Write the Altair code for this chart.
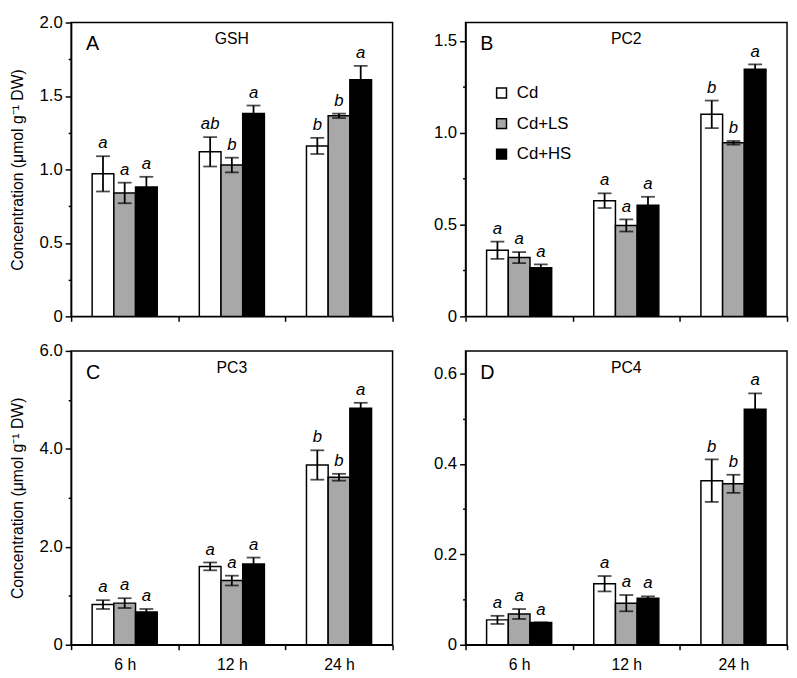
import altair as alt
import pandas as pd

FONT = "Liberation Sans"

times = ["6 h", "12 h", "24 h"]
treatments = ["Cd", "Cd+LS", "Cd+HS"]
fills = ["#ffffff", "#a8a8a8", "#000000"]

# GSH
gsh_cd = [0.97, 1.12, 1.16]
gsh_cd_err = [0.12, 0.10, 0.055]
gsh_ls = [0.84, 1.03, 1.365]
gsh_ls_err = [0.07, 0.05, 0.015]
gsh_hs = [0.88, 1.38, 1.61]
gsh_hs_err = [0.07, 0.055, 0.095]
gsh_letters = [["a", "ab", "b"], ["a", "b", "b"], ["a", "a", "a"]]

# PC2
pc2_cd = [0.36, 0.63, 1.10]
pc2_cd_err = [0.047, 0.04, 0.075]
pc2_ls = [0.32, 0.495, 0.945]
pc2_ls_err = [0.03, 0.033, 0.01]
pc2_hs = [0.265, 0.605, 1.345]
pc2_hs_err = [0.018, 0.046, 0.027]
pc2_letters = [["a", "a", "b"], ["a", "a", "b"], ["a", "a", "a"]]

# PC3
pc3_cd = [0.82, 1.60, 3.67]
pc3_cd_err = [0.09, 0.08, 0.30]
pc3_ls = [0.85, 1.31, 3.42]
pc3_ls_err = [0.10, 0.10, 0.07]
pc3_hs = [0.67, 1.65, 4.83]
pc3_hs_err = [0.06, 0.13, 0.11]
pc3_letters = [["a", "a", "b"], ["a", "a", "b"], ["a", "a", "a"]]

# PC4
pc4_cd = [0.055, 0.135, 0.363]
pc4_cd_err = [0.009, 0.017, 0.047]
pc4_ls = [0.068, 0.092, 0.356]
pc4_ls_err = [0.011, 0.018, 0.02]
pc4_hs = [0.049, 0.103, 0.521]
pc4_hs_err = [0.0, 0.004, 0.035]
pc4_letters = [["a", "a", "b"], ["a", "a", "b"], ["a", "a", "a"]]

W = 326
H = 298


def build(means, errs, letters):
    rows = []
    for ti, trt in enumerate(treatments):
        for gi, t in enumerate(times):
            m = means[ti][gi]
            e = errs[ti][gi]
            rows.append({"time": t, "treatment": trt, "mean": m,
                         "lo": m - e, "hi": m + e, "letter": letters[ti][gi]})
    return pd.DataFrame(rows)


def panel(df, ymax, majors, minors, tag, name, xlabels, ytitle, legend):
    allv = sorted(majors + minors)
    majs = "[" + ",".join(str(v) for v in majors) + "]"
    yaxis = alt.Axis(
        values=allv,
        labelExpr=f"indexof({majs}, datum.value) < 0 ? '' : (datum.value == 0 ? '0' : format(datum.value, '.1f'))",
        tickSize={"condition": {"test": f"indexof({majs}, datum.value) >= 0", "value": 6}, "value": 3},
        title=ytitle,
        grid=False,
        labelPadding=3,
        labelFontSize=17,
        titlePadding=14,
    )
    yscale = alt.Scale(domain=[0, ymax], nice=False, zero=True)
    xaxis = alt.Axis(title=None, tickBand="extent", labels=xlabels, tickSize=5,
                     labelPadding=7, labelAngle=0, grid=False, labelFontSize=16)
    base = alt.Chart(df).encode(
        x=alt.X("time:N", sort=times, scale=alt.Scale(paddingInner=0, paddingOuter=0), axis=xaxis),
        xOffset=alt.XOffset("treatment:N", sort=treatments,
                            scale=alt.Scale(paddingOuter=0.97, paddingInner=0)),
    )
    fill_kw = {}
    if legend:
        fill_kw["legend"] = alt.Legend(
            orient="none", legendX=28, legendY=63, title=None, symbolType="square",
            symbolSize=100, symbolStrokeColor="black", symbolStrokeWidth=1.5,
            labelFontSize=17, labelFont=FONT, labelColor="black", rowPadding=13,
            labelOffset=7, direction="vertical")
    else:
        fill_kw["legend"] = None
    bars = base.mark_bar(stroke="black", strokeWidth=1.5).encode(
        y=alt.Y("mean:Q", scale=yscale, axis=yaxis),
        fill=alt.Fill("treatment:N", sort=treatments,
                      scale=alt.Scale(domain=treatments, range=fills), **fill_kw),
    )
    rule = base.mark_rule(strokeWidth=1.8, color="black").encode(
        y=alt.Y("lo:Q", scale=yscale, axis=yaxis), y2="hi:Q")
    captop = base.mark_tick(orient="horizontal", size=14, thickness=1.8, color="black").encode(
        y=alt.Y("hi:Q", scale=yscale, axis=yaxis))
    capbot = base.mark_tick(orient="horizontal", size=14, thickness=1.8, color="black").encode(
        y=alt.Y("lo:Q", scale=yscale, axis=yaxis))
    letters = base.mark_text(fontStyle="italic", fontSize=17, dy=-8, baseline="alphabetic",
                             font=FONT, color="black").encode(
        y=alt.Y("hi:Q", scale=yscale, axis=yaxis), text="letter:N")
    tagt = alt.Chart(pd.DataFrame({"t": [tag]})).mark_text(
        fontSize=20, align="left", baseline="middle", font=FONT, color="black").encode(
        text="t:N", x=alt.value(15), y=alt.value(22))
    titl = alt.Chart(pd.DataFrame({"t": [name]})).mark_text(
        fontSize=16, align="center", baseline="middle", font=FONT, color="black").encode(
        text="t:N", x=alt.value(W / 2), y=alt.value(17))
    return alt.layer(bars, rule, captop, capbot, letters, tagt, titl).properties(width=W, height=H)


YT = "Concentration (μmol g⁻¹ DW)"

pA = panel(build([gsh_cd, gsh_ls, gsh_hs], [gsh_cd_err, gsh_ls_err, gsh_hs_err], gsh_letters),
           2.0, [0, 0.5, 1.0, 1.5, 2.0], [0.25, 0.75, 1.25, 1.75], "A", "GSH", False, YT, False)
pB = panel(build([pc2_cd, pc2_ls, pc2_hs], [pc2_cd_err, pc2_ls_err, pc2_hs_err], pc2_letters),
           1.6, [0, 0.5, 1.0, 1.5], [0.25, 0.75, 1.25], "B", "PC2", False, None, True)
pC = panel(build([pc3_cd, pc3_ls, pc3_hs], [pc3_cd_err, pc3_ls_err, pc3_hs_err], pc3_letters),
           6.0, [0, 2.0, 4.0, 6.0], [1.0, 3.0, 5.0], "C", "PC3", True, YT, False)
pD = panel(build([pc4_cd, pc4_ls, pc4_hs], [pc4_cd_err, pc4_ls_err, pc4_hs_err], pc4_letters),
           0.65, [0, 0.2, 0.4, 0.6], [0.1, 0.3, 0.5], "D", "PC4", True, None, False)

chart = alt.concat(pA, pB, pC, pD, columns=2, spacing={"row": 16, "column": 38}).resolve_scale(
    fill="independent").resolve_legend(fill="independent").properties(padding=0).configure_view(
    stroke="black", strokeWidth=1.5).configure_axis(
    domainColor="black", domainWidth=1.5, tickColor="black", tickWidth=1.5,
    labelColor="black", labelFont=FONT, labelFontSize=16, titleFont=FONT,
    titleFontSize=16, titleFontWeight="normal", titleColor="black")

chart.save("out.html", embed_options={"renderer": "svg", "actions": False})
